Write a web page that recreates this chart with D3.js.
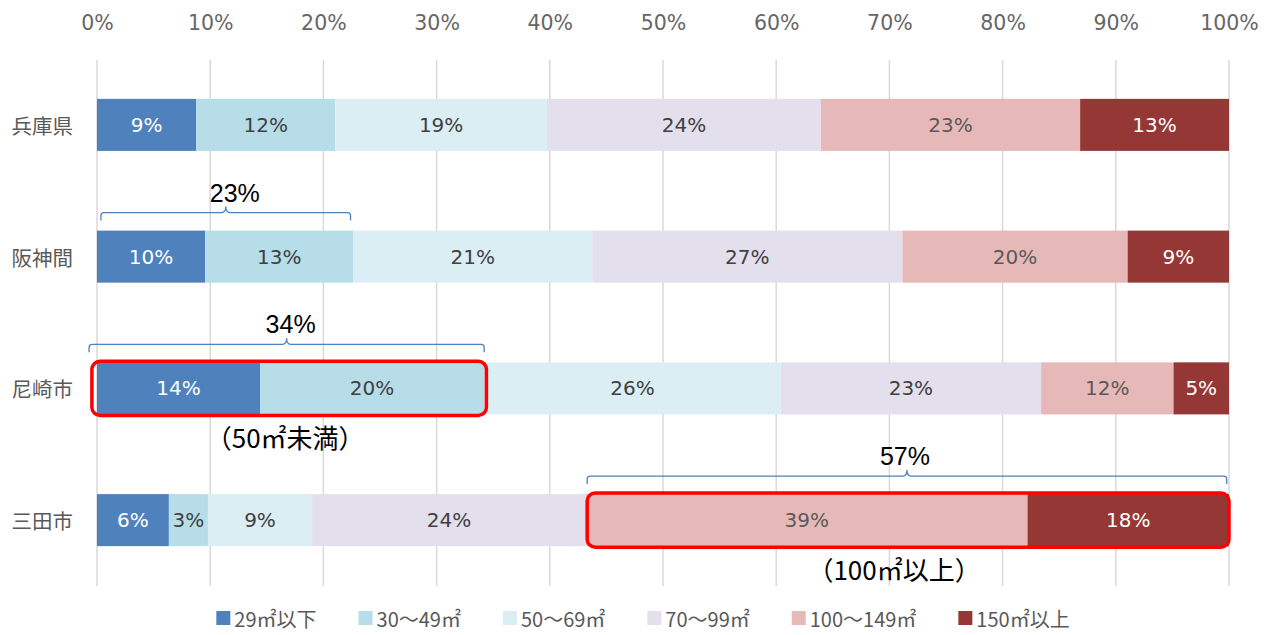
<!DOCTYPE html>
<html><head><meta charset="utf-8">
<script src="https://cdn.jsdelivr.net/npm/d3@7"></script>
<style>body{margin:0;background:#fff}svg{display:block}</style>
</head><body>
<svg id="c" width="1272" height="635"></svg>
<script>
const categories = ["兵庫県", "阪神間", "尼崎市", "三田市"];
const seriesNames = ["29㎡以下", "30～49㎡", "50～69㎡", "70～99㎡", "100～149㎡", "150㎡以上"];
const s29 = [8.75, 9.55, 14.4, 6.35];
const s30 = [12.3, 13.1, 19.8, 3.45];
const s50 = [18.7, 21.1, 26.2, 9.2];
const s70 = [24.2, 27.4, 23.0, 24.2];
const s100 = [22.9, 19.9, 11.7, 39.0];
const s150 = [13.15, 8.95, 4.9, 17.8];
const xTicks = [0, 10, 20, 30, 40, 50, 60, 70, 80, 90, 100];
// bracket annotations: category, start %, end %, label
const brackets = [
  {cat: "阪神間", from: 0.35, to: 22.4, label: "23%"},
  {cat: "尼崎市", from: -0.7, to: 34.2, label: "34%"},
  {cat: "三田市", from: 43.3, to: 99.8, label: "57%"}
];
// highlight boxes: category, start %, end %, note
const highlights = [
  {cat: "尼崎市", from: -0.45, to: 34.4, note: "（50㎡未満）"},
  {cat: "三田市", from: 43.3, to: 100, note: "（100㎡以上）"}
];

const colors = ["#4F81BD", "#B7DDE8", "#DBEEF4", "#E4DFEC", "#E6B9B8", "#953735"];
const labelColors = ["#ffffff", "#404040", "#404040", "#404040", "#595959", "#ffffff"];
const allSeries = [s29, s30, s50, s70, s100, s150];
const bracketLabelShift = [9, 4, -2];
const noteShift = [-4, -14];

const svg = d3.select("#c");
const x = d3.scaleLinear().domain([0, 100]).range([97, 1229]);
const y = d3.scaleBand().domain(categories).range([59, 586]).paddingInner(0.605).paddingOuter(0.3025);

// gridlines
svg.append("g").selectAll("line").data(xTicks).join("line")
  .attr("x1", d => x(d)).attr("x2", d => x(d))
  .attr("y1", 60).attr("y2", 586)
  .attr("stroke", "#d9d9d9").attr("stroke-width", 1.5);

// top axis labels
const ax = svg.append("g").attr("transform", "translate(0,30)")
  .call(d3.axisTop(x).tickValues(xTicks).tickFormat(d => d + "%").tickSize(0).tickPadding(0));
ax.select(".domain").remove();
ax.selectAll("text").attr("font-family", "DejaVu Sans, Verdana, sans-serif")
  .attr("font-size", 20.5).attr("fill", "#666666");

// category labels
svg.append("g").selectAll("text").data(categories).join("text")
  .attr("x", 73).attr("y", d => y(d) + y.bandwidth() / 2)
  .attr("text-anchor", "end").attr("dominant-baseline", "central")
  .attr("font-family", "Noto Sans CJK JP, sans-serif").attr("font-size", 20.5)
  .attr("fill", "#595959").text(d => d);

// stacked data
const rows = categories.map((c, i) => {
  let acc = 0;
  return allSeries.map((s, k) => {
    const seg = {cat: c, k, x0: acc, x1: acc + s[i], v: s[i]};
    acc += s[i];
    return seg;
  });
}).flat();

const segG = svg.append("g");
segG.selectAll("rect").data(rows).join("rect")
  .attr("x", d => x(d.x0)).attr("width", d => x(d.x1) - x(d.x0))
  .attr("y", d => y(d.cat)).attr("height", y.bandwidth())
  .attr("fill", d => colors[d.k]);

segG.selectAll("text").data(rows).join("text")
  .attr("x", d => x((d.x0 + d.x1) / 2)).attr("y", d => y(d.cat) + y.bandwidth() / 2)
  .attr("text-anchor", "middle").attr("dominant-baseline", "central")
  .attr("font-family", "DejaVu Sans, Verdana, sans-serif").attr("font-size", 20)
  .attr("fill", d => labelColors[d.k])
  .text(d => Math.round(d.v) + "%");

// highlight boxes
const hG = svg.append("g");
hG.selectAll("rect").data(highlights).join("rect")
  .attr("x", d => x(d.from)).attr("width", d => x(d.to) - x(d.from))
  .attr("y", d => y(d.cat) - 1).attr("height", y.bandwidth() + 2)
  .attr("rx", 8).attr("fill", "none").attr("stroke", "#FF0000").attr("stroke-width", 3.5);
hG.selectAll("text").data(highlights).join("text")
  .attr("x", (d, i) => x((d.from + d.to) / 2) + noteShift[i])
  .attr("y", d => y(d.cat) + y.bandwidth() + 22)
  .attr("text-anchor", "middle").attr("dominant-baseline", "central")
  .attr("font-family", "Noto Sans CJK JP, sans-serif").attr("font-size", 26)
  .attr("fill", "#000").text(d => d.note);

// brackets
const bG = svg.append("g");
bG.selectAll("path").data(brackets).join("path")
  .attr("d", d => {
    const x1 = x(d.from), x2 = x(d.to), xm = (x1 + x2) / 2;
    const yb = y(d.cat) - 18;
    return `M${x1},${yb + 8} L${x1},${yb + 3} Q${x1},${yb} ${x1 + 3},${yb} L${xm - 4},${yb} Q${xm},${yb} ${xm},${yb - 6} Q${xm},${yb} ${xm + 4},${yb} L${x2 - 3},${yb} Q${x2},${yb} ${x2},${yb + 3} L${x2},${yb + 8}`;
  })
  .attr("fill", "none").attr("stroke", "#4F81BD").attr("stroke-width", 1.3);
bG.selectAll("text").data(brackets).join("text")
  .attr("x", (d, i) => (x(d.from) + x(d.to)) / 2 + bracketLabelShift[i]).attr("y", d => y(d.cat) - 38)
  .attr("text-anchor", "middle").attr("dominant-baseline", "central")
  .attr("font-family", "Liberation Sans, Arial, sans-serif").attr("font-size", 25)
  .attr("fill", "#000").text(d => d.label);

// legend
const lg = svg.append("g");
const items = lg.selectAll("g").data(seriesNames).join("g");
items.append("rect").attr("width", 14).attr("height", 14).attr("y", -7)
  .attr("fill", (d, i) => colors[i]);
items.append("text").attr("x", 18).attr("dominant-baseline", "central")
  .attr("font-family", "Noto Sans CJK JP, sans-serif").attr("font-size", 20)
  .attr("fill", "#595959").text(d => d);
let lx = 0;
const gap = 42;
items.each(function() {
  const w = 18 + this.querySelector("text").getComputedTextLength();
  d3.select(this).attr("data-x", lx);
  lx += w + gap;
});
const total = lx - gap;
const start = 643 - total / 2;
items.attr("transform", function() { return `translate(${start + (+this.getAttribute("data-x"))},618)`; });
</script>
</body></html>
